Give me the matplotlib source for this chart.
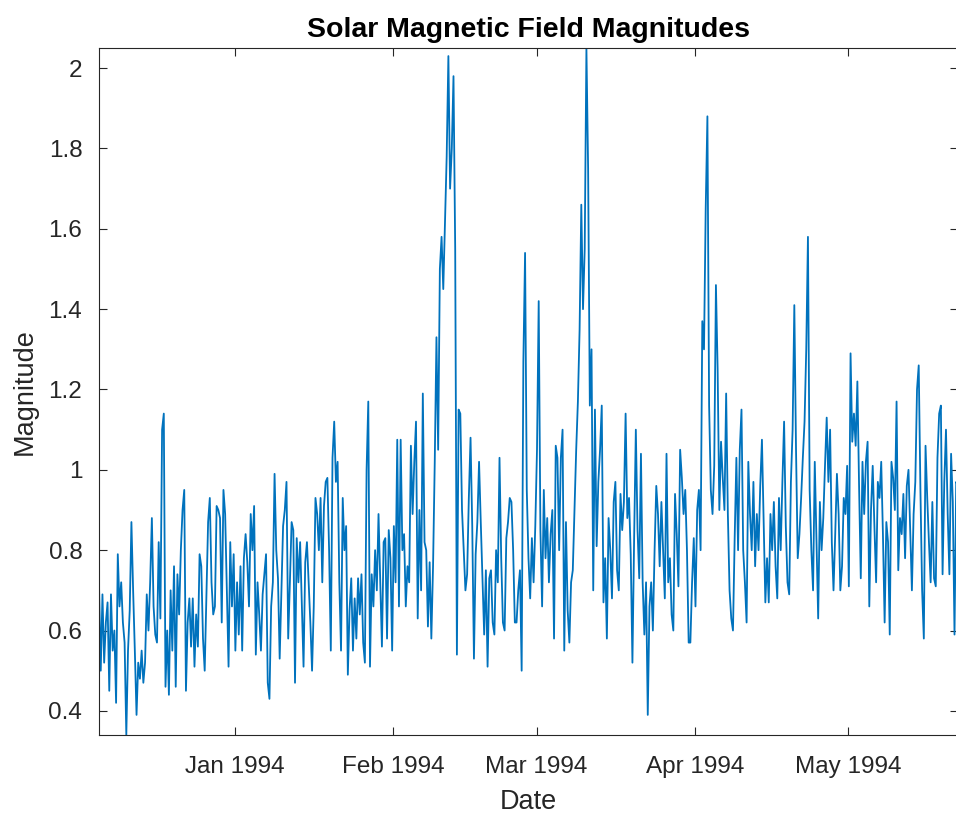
import pandas as pd
import matplotlib
matplotlib.use('Agg')
import matplotlib.pyplot as plt
import matplotlib.dates as mdates
from matplotlib.ticker import FuncFormatter

# readings every 8 hours, starting 5 Dec 1993
start = '1993-12-05 10:00'
step = '8h'

mag_dec = [0.71, 0.50, 0.69, 0.52, 0.62, 0.67, 0.45, 0.69, 0.55, 0.60,
           0.42, 0.79, 0.66, 0.72, 0.62, 0.57, 0.34, 0.55, 0.65, 0.87,
           0.70, 0.55, 0.39, 0.52, 0.48, 0.55, 0.47, 0.52, 0.69, 0.60,
           0.72, 0.88, 0.66, 0.59, 0.57, 0.82, 0.63, 1.10, 1.14, 0.46,
           0.60, 0.44, 0.70, 0.55, 0.76, 0.46, 0.74, 0.64, 0.80, 0.90,
           0.95, 0.45, 0.62, 0.68, 0.56, 0.68, 0.51, 0.64, 0.56, 0.79,
           0.76, 0.58, 0.50, 0.68, 0.87, 0.93, 0.72, 0.64, 0.66, 0.91,
           0.90]
mag_jan = [0.88, 0.62, 0.95, 0.89, 0.70, 0.51, 0.82, 0.66, 0.79, 0.55,
           0.72, 0.59, 0.76, 0.55, 0.78, 0.84, 0.77, 0.66, 0.89, 0.80,
           0.91, 0.54, 0.72, 0.64, 0.55, 0.69, 0.74, 0.79, 0.47, 0.43,
           0.66, 0.72, 0.99, 0.80, 0.73, 0.53, 0.69, 0.86, 0.90, 0.97,
           0.58, 0.72, 0.87, 0.85, 0.47, 0.83, 0.72, 0.82, 0.66, 0.51,
           0.77, 0.82, 0.72, 0.62, 0.50, 0.66, 0.93, 0.89, 0.80, 0.93,
           0.72, 0.91, 0.97, 0.98, 0.80, 0.55, 1.03, 1.12, 0.97, 1.02,
           0.72, 0.55, 0.93]
mag_feb = [0.80, 0.86, 0.49, 0.65, 0.73, 0.55, 0.68, 0.58, 0.73, 0.64,
           0.74, 0.57, 0.52, 1.00, 1.17, 0.51, 0.74, 0.66, 0.80, 0.70,
           0.89, 0.72, 0.56, 0.82, 0.83, 0.58, 0.85, 0.78, 0.55, 0.86,
           0.72, 1.075, 0.66, 1.075, 0.80, 0.84, 0.66, 0.76, 0.72, 1.06,
           0.89, 1.02, 1.12, 0.63, 0.90, 0.70, 1.19, 0.82, 0.80, 0.61,
           0.77, 0.58, 0.76, 1.02, 1.33, 1.05, 1.50, 1.58, 1.45, 1.62,
           1.78, 2.03, 1.70, 1.80, 1.98, 1.55, 0.54, 1.15, 1.14, 0.90,
           0.80, 0.70, 0.74, 0.93, 1.08, 0.86, 0.53, 0.79, 0.87, 1.02,
           0.87, 0.73, 0.59, 0.75, 0.51, 0.73, 0.75, 0.62, 0.59, 0.80,
           0.72, 1.03, 0.78, 0.62, 0.60, 0.83, 0.87, 0.93, 0.92, 0.80,
           0.62]
mag_mar = [0.62, 0.70, 0.75, 0.50, 1.27, 1.54, 0.95, 0.78, 0.68, 0.83,
           0.72, 0.86, 1.05, 1.42, 0.85, 0.66, 0.95, 0.78, 0.88, 0.72,
           0.84, 0.90, 0.58, 1.06, 1.03, 0.80, 1.03, 1.10, 0.55, 0.87,
           0.65, 0.57, 0.72, 0.75, 0.90, 1.05, 1.17, 1.35, 1.66, 1.40,
           1.55, 2.05, 1.75, 1.16, 1.30, 0.70, 1.15, 0.81, 0.97, 1.05,
           1.16, 0.67, 0.78, 0.58, 0.88, 0.80, 0.68, 0.92, 0.97, 0.75,
           0.70, 0.94, 0.85, 0.92, 1.14, 0.88, 0.93, 0.79, 0.52, 0.83,
           1.10, 0.85, 0.73, 1.04, 0.72, 0.59, 0.72, 0.39, 0.66, 0.72,
           0.60, 0.80, 0.96, 0.89, 0.76, 0.92, 0.80, 0.68, 1.04, 0.72,
           0.78, 0.64, 0.60, 0.94, 0.84, 0.71, 1.05, 0.98, 0.89, 0.95,
           0.80, 0.57]
mag_apr = [0.57, 0.72, 0.83, 0.66, 0.90, 0.95, 0.80, 1.37, 1.30, 1.65,
           1.88, 1.16, 0.95, 0.89, 1.01, 1.46, 1.25, 0.90, 1.07, 0.98,
           0.90, 1.19, 0.89, 0.70, 0.63, 0.60, 0.83, 1.03, 0.80, 1.05,
           1.15, 0.80, 0.72, 0.62, 1.02, 0.89, 0.80, 0.97, 0.76, 0.89,
           0.80, 0.96, 1.075, 0.87, 0.67, 0.78, 0.67, 0.89, 0.80, 0.92,
           0.76, 0.68, 0.93, 0.80, 0.97, 1.12, 0.86, 0.72, 0.69, 0.97,
           1.10, 1.41, 1.05, 0.78, 0.84, 0.93, 1.03, 1.12, 1.30, 1.58,
           0.95, 0.80, 0.70, 1.02, 0.82, 0.63, 0.92, 0.80, 0.88, 1.01,
           1.13, 0.97, 1.10, 0.82, 0.70, 0.84, 0.99, 0.89, 0.70, 0.76,
           0.93, 0.89, 1.01, 0.71, 1.29, 1.07, 1.14, 1.06, 1.22, 0.96,
           0.73, 1.02, 0.89, 1.02]
mag_may = [1.07, 0.66, 0.90, 1.01, 0.86, 0.72, 0.97, 0.93, 1.02, 0.84,
           0.62, 0.87, 0.82, 0.59, 1.02, 0.98, 0.90, 1.17, 0.75, 0.88,
           0.84, 0.94, 0.78, 0.96, 1.00, 0.85, 0.70, 0.89, 0.97, 1.20,
           1.26, 0.95, 0.70, 0.58, 1.06, 0.93, 0.82, 0.72, 0.92, 0.73,
           0.71, 1.03, 1.14, 1.16, 0.74, 0.97, 1.10, 0.89, 0.74, 1.04,
           0.92, 0.59, 0.97, 0.96]

magnitude = mag_dec + mag_jan + mag_feb + mag_mar + mag_apr + mag_may
dates = pd.date_range(start, periods=len(magnitude), freq=step)

plt.rcParams['font.family'] = ['Liberation Sans', 'DejaVu Sans']
dark = '#262626'

fig = plt.figure(figsize=(9.56, 8.17), dpi=100)
ax = fig.add_axes([0.1036, 0.1004, 0.8984, 0.8408])
ax.plot(dates, magnitude, color='#0072BD', lw=1.3)

ax.set_xlim(dates[0], dates[-1])
ax.set_ylim(min(magnitude), max(magnitude))
ax.xaxis.set_major_locator(mdates.MonthLocator())
ax.xaxis.set_major_formatter(mdates.DateFormatter('%b %Y'))
ax.set_yticks([0.4, 0.6, 0.8, 1.0, 1.2, 1.4, 1.6, 1.8, 2.0])
ax.yaxis.set_major_formatter(FuncFormatter(lambda v, p: '%g' % round(v, 2)))

ax.tick_params(direction='in', top=True, right=True, length=6, width=0.8,
               labelsize=17.5, colors=dark)
ax.tick_params(axis='x', pad=15)
ax.tick_params(axis='y', pad=12)
for s in ax.spines.values():
    s.set_color(dark)
    s.set_linewidth(0.8)

ax.set_title('Solar Magnetic Field Magnitudes', fontsize=20.5, fontweight='bold',
             color='black', pad=8)
ax.set_xlabel('Date', fontsize=19.5, color=dark, labelpad=8)
ax.set_ylabel('Magnitude', fontsize=19.5, color=dark, labelpad=8)

fig.savefig('out.png', dpi=100)
